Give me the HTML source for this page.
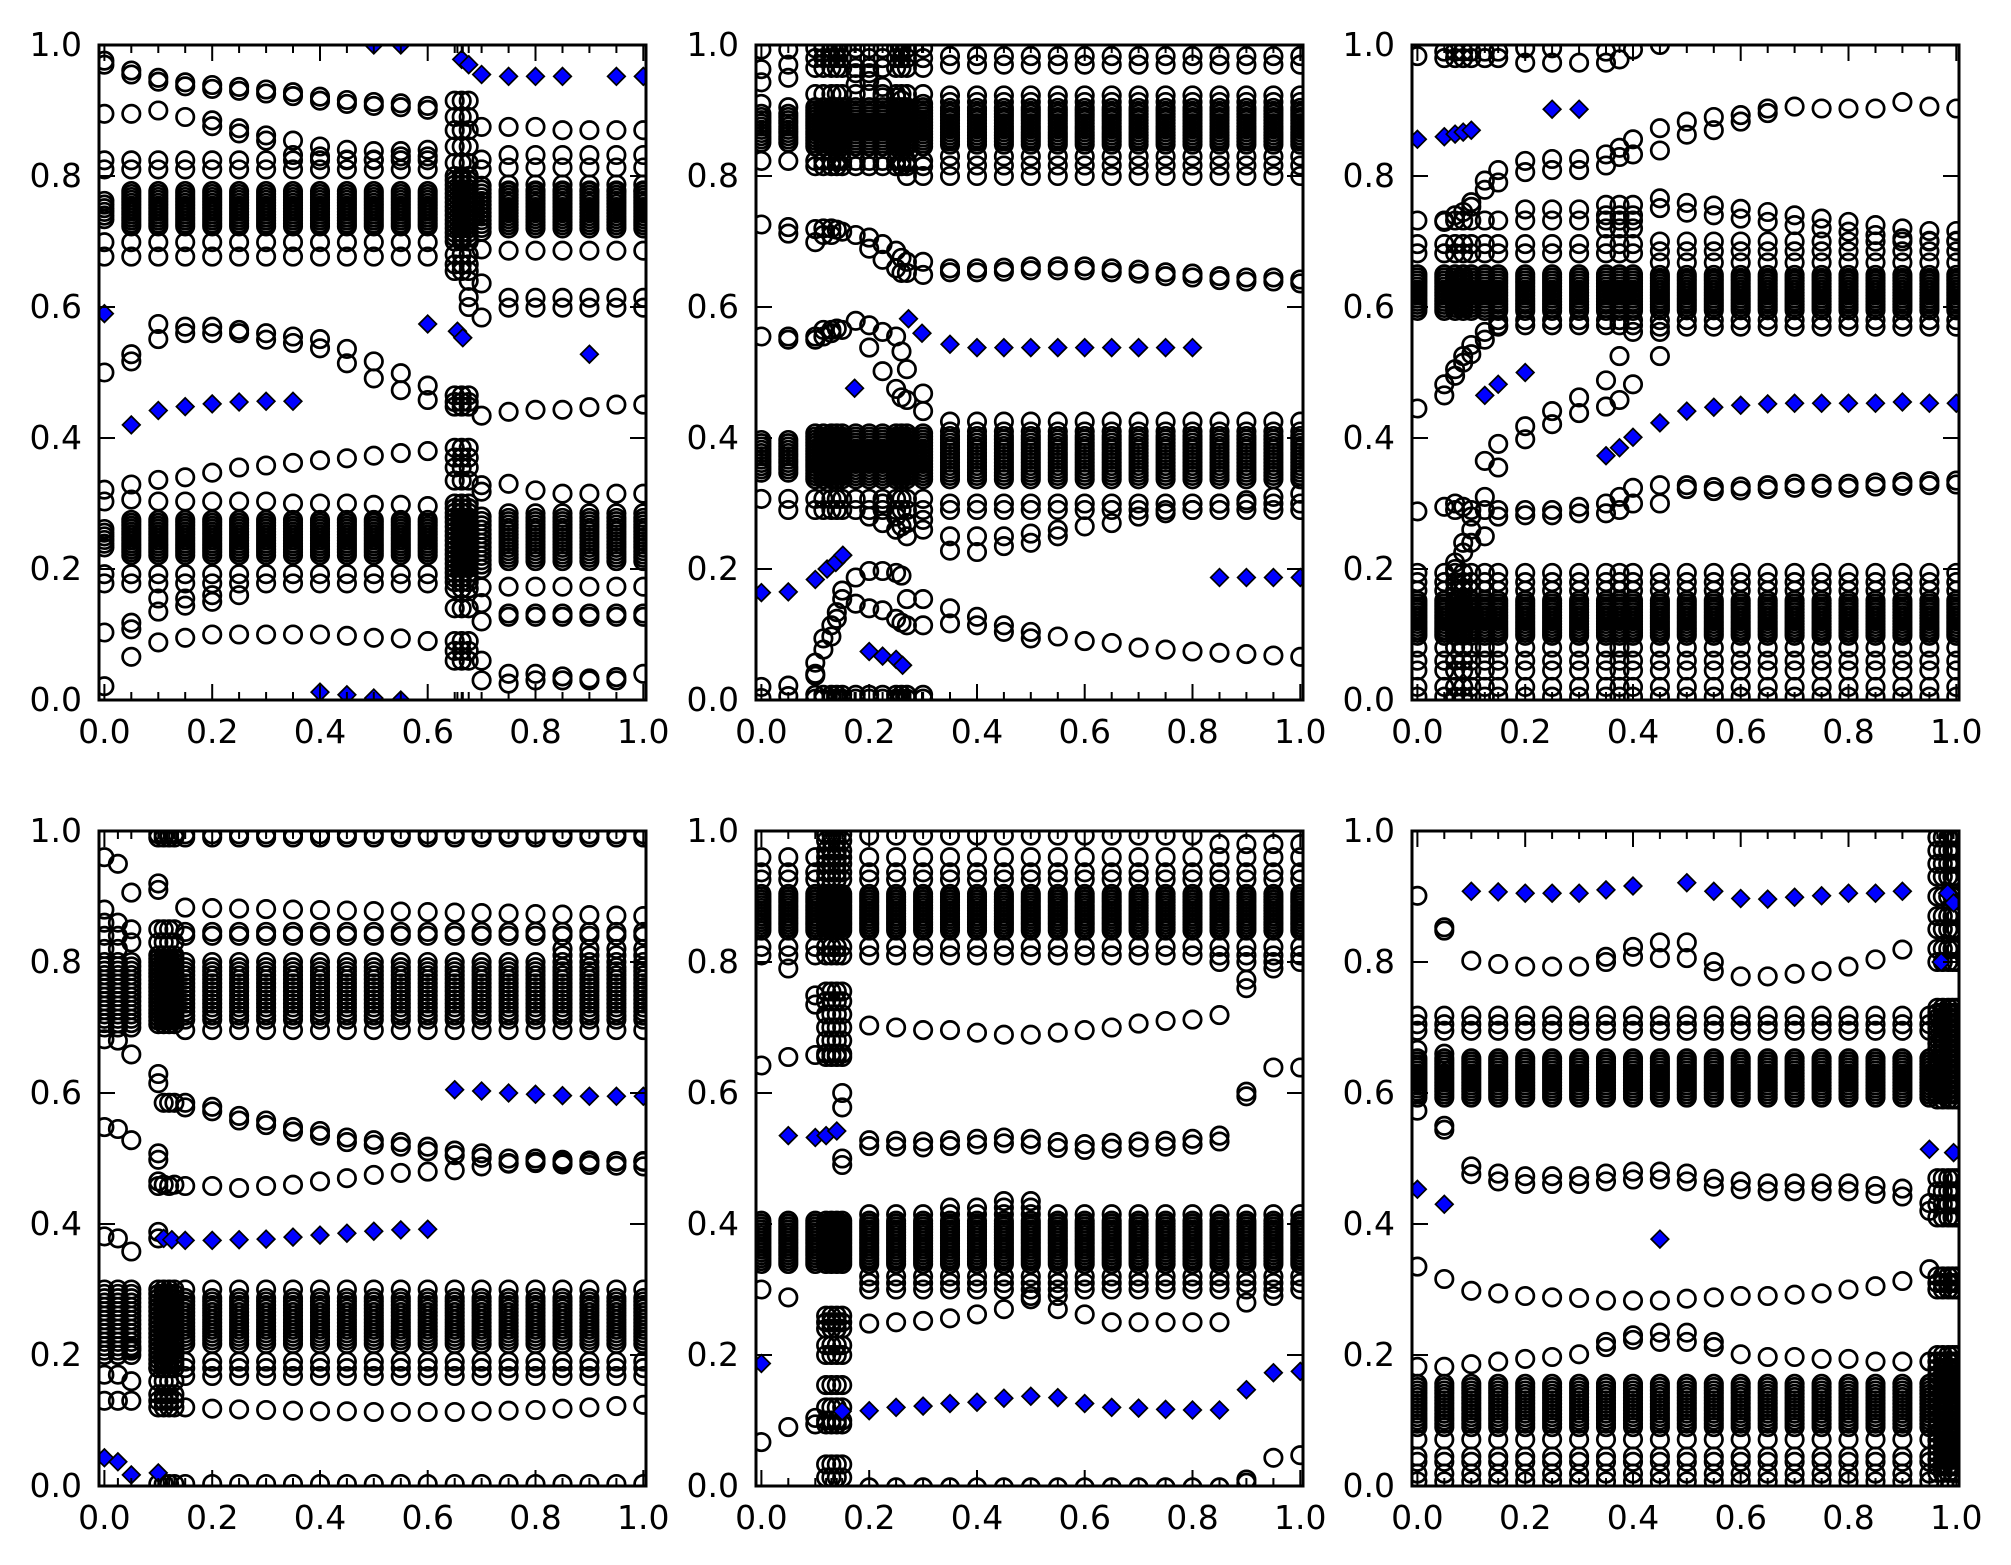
<!DOCTYPE html>
<html><head><meta charset="utf-8">
<style>html,body{margin:0;padding:0;background:#fff}svg{display:block}</style>
</head><body>
<svg id="s" width="2011" height="1565" viewBox="0 0 2011 1565">
<rect width="2011" height="1565" fill="#fff"/>
<defs>
<clipPath id="c1"><rect x="99" y="45" width="547" height="655"/></clipPath>
<clipPath id="c2"><rect x="756" y="45" width="547" height="655"/></clipPath>
<clipPath id="c3"><rect x="1412" y="45" width="547" height="655"/></clipPath>
<clipPath id="c4"><rect x="99" y="831" width="547" height="655"/></clipPath>
<clipPath id="c5"><rect x="756" y="831" width="547" height="655"/></clipPath>
<clipPath id="c6"><rect x="1412" y="831" width="547" height="655"/></clipPath>
</defs>
<g id="marks"></g>
<g fill="none" stroke="#000" stroke-width="3">
<rect x="99" y="45" width="547" height="655"/>
<rect x="756" y="45" width="547" height="655"/>
<rect x="1412" y="45" width="547" height="655"/>
<rect x="99" y="831" width="547" height="655"/>
<rect x="756" y="831" width="547" height="655"/>
<rect x="1412" y="831" width="547" height="655"/>
</g>
<g font-family="DejaVu Sans, Liberation Sans, sans-serif" font-size="33" fill="#000" text-anchor="middle">
<text x="104.4" y="743">0.0</text><text x="212.2" y="743">0.2</text><text x="320" y="743">0.4</text><text x="427.7" y="743">0.6</text><text x="535.5" y="743">0.8</text><text x="643.3" y="743">1.0</text>
<text x="761.4" y="743">0.0</text><text x="869.2" y="743">0.2</text><text x="977" y="743">0.4</text><text x="1084.7" y="743">0.6</text><text x="1192.5" y="743">0.8</text><text x="1300.3" y="743">1.0</text>
<text x="1417.4" y="743">0.0</text><text x="1525.2" y="743">0.2</text><text x="1633" y="743">0.4</text><text x="1740.7" y="743">0.6</text><text x="1848.5" y="743">0.8</text><text x="1956.3" y="743">1.0</text>
<text x="104.4" y="1529">0.0</text><text x="212.2" y="1529">0.2</text><text x="320" y="1529">0.4</text><text x="427.7" y="1529">0.6</text><text x="535.5" y="1529">0.8</text><text x="643.3" y="1529">1.0</text>
<text x="761.4" y="1529">0.0</text><text x="869.2" y="1529">0.2</text><text x="977" y="1529">0.4</text><text x="1084.7" y="1529">0.6</text><text x="1192.5" y="1529">0.8</text><text x="1300.3" y="1529">1.0</text>
<text x="1417.4" y="1529">0.0</text><text x="1525.2" y="1529">0.2</text><text x="1633" y="1529">0.4</text><text x="1740.7" y="1529">0.6</text><text x="1848.5" y="1529">0.8</text><text x="1956.3" y="1529">1.0</text>
</g>
<g font-family="DejaVu Sans, Liberation Sans, sans-serif" font-size="33" fill="#000" text-anchor="end">
<text x="82" y="56">1.0</text><text x="82" y="187">0.8</text><text x="82" y="318">0.6</text><text x="82" y="449">0.4</text><text x="82" y="580">0.2</text><text x="82" y="711">0.0</text>
<text x="739" y="56">1.0</text><text x="739" y="187">0.8</text><text x="739" y="318">0.6</text><text x="739" y="449">0.4</text><text x="739" y="580">0.2</text><text x="739" y="711">0.0</text>
<text x="1395" y="56">1.0</text><text x="1395" y="187">0.8</text><text x="1395" y="318">0.6</text><text x="1395" y="449">0.4</text><text x="1395" y="580">0.2</text><text x="1395" y="711">0.0</text>
<text x="82" y="842">1.0</text><text x="82" y="973">0.8</text><text x="82" y="1104">0.6</text><text x="82" y="1235">0.4</text><text x="82" y="1366">0.2</text><text x="82" y="1497">0.0</text>
<text x="739" y="842">1.0</text><text x="739" y="973">0.8</text><text x="739" y="1104">0.6</text><text x="739" y="1235">0.4</text><text x="739" y="1366">0.2</text><text x="739" y="1497">0.0</text>
<text x="1395" y="842">1.0</text><text x="1395" y="973">0.8</text><text x="1395" y="1104">0.6</text><text x="1395" y="1235">0.4</text><text x="1395" y="1366">0.2</text><text x="1395" y="1497">0.0</text>
</g>
</svg>
<script>
(function(){
var R=[];for(var i=0;i<=20;i++)R.push(+(i*0.05).toFixed(2));
function rng(a,b){return R.filter(function(x){return x>=a-1e-9&&x<=b+1e-9;});}
function mk(L,T){var p={L:L,T:T,c:[],d:[]};
p.S=function(x0,ys,dd){ys.forEach(function(y,i){if(y==null)return;var x=+(x0+i*0.05).toFixed(3);p.c.push([x,y]);if(dd)p.c.push([x,y+dd]);});return p;};
p.C=function(x,ys){ys.forEach(function(y){p.c.push([x,y]);});return p;};
p.H=function(xl,y,dd){xl.forEach(function(x){p.c.push([x,y]);if(dd)p.c.push([x,y+dd]);});return p;};
p.B=function(xl,yc,h,n){var m=Math.round(n*1.6);xl.forEach(function(x){for(var k=0;k<m;k++)p.c.push([x,yc-h+2*h*k/(m-1)]);});return p;};
p.D=function(l){l.forEach(function(v){p.d.push(v);});return p;};
return p;}

/* ---------- Plot 1 ---------- */
var p1=mk(99,45);
p1.S(0,[.976,.961,.95,.943,.939,.936,.932,.928,.921,.916,.913,.911,.907],-.006);
p1.S(0,[.895,.895,.9,.89,.885,.873,.862,.854,.845,.84,.838,.838,.84]);
p1.S(.2,[.876,.865,.854,.832,.83,.825,.825,.83,.83]);
p1.H(rng(0,.6),.824);p1.H(rng(0,.6),.81);
p1.B([0],.748,.014,4);p1.B(rng(.05,.6),.75,.027,8);
p1.H(rng(0,.6),.699);p1.H(rng(0,.6),.677);
p1.S(0,[.5,.528,.574,.57,.57,.565,.56,.555,.551,.536,.517,.499,.48]);
p1.S(.05,[.517,.551,.56,.56,.56,.55,.545,.537,.514,.491,.473,.458]);
p1.S(.75,[.44,.443,.443,.447,.451,.451]);
p1.S(0,[.321,.329,.336,.34,.347,.355,.358,.362,.366,.369,.373,.377,.38]);
p1.S(0,[.303,.306,.303,.303,.303,.303,.303,.3,.3,.3,.298,.298,.296]);
p1.B([0],.247,.014,4);p1.B(rng(.05,.6),.248,.027,8);
p1.H(rng(0,.6),.192);p1.H(rng(0,.6),.178);
p1.C(.1,[.155,.135]);p1.C(.15,[.155,.144]);p1.C(.2,[.16,.15]);p1.C(.25,[.16]);
p1.S(0,[.103,.118,.088,.095,.1,.1,.1,.1,.1,.098,.095,.094,.09]);
p1.C(.05,[.066,.108]);p1.C(0,[.021]);
var RR=rng(.75,1);
p1.S(.75,[.875,.875,.87,.87,.87,.87]);
p1.H(RR,.832);p1.H(RR,.813);p1.H(RR,.787);p1.H(RR,.778);
p1.B(RR,.748,.028,8);
p1.H(RR,.686);p1.H(RR,.614);p1.H(RR,.599);
p1.S(.75,[.33,.32,.315,.315,.315,.315]);
p1.H(RR,.285);
p1.B(RR,.245,.033,9);
p1.H(RR,.173);p1.H(RR,.132);p1.H(RR,.127);
p1.S(.75,[.04,.04,.036,.033,.035,.04]);p1.S(.75,[.025,.03,.03,.03,.03]);
[.65,.663,.676].forEach(function(x){p1.C(x,[.915,.89,.87,.845,.82,.68,.665,.655,.465,.455,.448,.385,.37,.355,.335,.17,.14,.09,.075,.06]);p1.B([x],.75,.05,10);p1.B([x],.24,.06,11);});
p1.C(.676,[.64,.615,.6]);
p1.C(.7,[.875,.825,.81,.688,.636,.584,.434,.328,.318,.172,.148,.12,.06,.03]);p1.B([.7],.75,.035,8);p1.B([.7],.24,.04,8);
p1.D([[0,.59],[.05,.42],[.1,.442],[.15,.448],[.2,.452],[.25,.455],[.3,.456],[.35,.456],[.4,.012],[.45,.008],[.5,.003],[.55,0],[.5,1.0],[.55,1.0],[.6,.574],[.655,.563],[.665,.553],[.663,.978],[.676,.97],[.7,.955],[.75,.952],[.8,.952],[.85,.952],[.9,.528],[.95,.952],[1,.952]]);

/* ---------- Plot 2 ---------- */
var p2=mk(756,45);
var A2=[.1,.115,.13,.14,.15,.175,.2,.225,.25,.26,.27,.3];
var R2=rng(.35,1);
p2.B([0,.05],.873,.022,6);p2.B(A2,.875,.03,9);p2.B(R2,.876,.028,8);
p2.C(0,[.993,.963,.943,.91,.823]);p2.C(.05,[.993,.97,.95,.905,.823]);
A2.forEach(function(x){p2.C(x,[.995,.98,.965,.925,.823,.815]);});
p2.C(.175,[.957,.94]);p2.C(.2,[.957,.945]);p2.C(.225,[.936,.92]);p2.C(.25,[.92,.9]);p2.C(.26,[.916,.9]);p2.C(.27,[.9,.82,.8]);p2.C(.3,[.91,.8]);
R2.forEach(function(x){p2.C(x,[.983,.97,.923,.913,.83,.816,.8]);});
p2.C(0,[.726]);p2.C(.05,[.722,.712]);p2.C(.1,[.719,.699]);
p2.C(.115,[.72,.71]);p2.C(.13,[.72,.71]);p2.C(.14,[.718]);p2.C(.15,[.715]);p2.C(.175,[.71]);
p2.C(.2,[.706,.689]);p2.C(.225,[.696,.672]);p2.C(.25,[.686,.659]);p2.C(.26,[.675,.652]);p2.C(.27,[.669,.652]);p2.C(.3,[.669,.649]);
p2.S(.35,[.659,.659,.66,.662,.662,.662,.659,.657,.653,.651,.647,.645,.645,.642],-.006);
p2.C(0,[.555]);p2.C(.05,[.555,.55]);p2.C(.1,[.555,.55]);p2.C(.115,[.565,.555]);p2.C(.13,[.565,.56]);p2.C(.14,[.567]);p2.C(.15,[.565]);p2.C(.175,[.579]);p2.C(.2,[.572,.538]);p2.C(.225,[.562,.502]);p2.C(.25,[.555,.475]);p2.C(.26,[.532,.462]);p2.C(.27,[.505,.458]);p2.C(.3,[.468,.441]);
p2.B([0,.05],.372,.025,7);p2.B(A2,.372,.035,10);p2.B(R2,.37,.033,9);
A2.forEach(function(x){p2.C(x,[.307,.29]);});p2.C(0,[.307]);p2.C(.05,[.307,.29]);
p2.C(.2,[.28]);p2.C(.225,[.27,.3]);p2.C(.25,[.26,.28]);p2.C(.26,[.265]);p2.C(.27,[.25,.27]);p2.C(.3,[.26,.275]);
R2.forEach(function(x){p2.C(x,[.425,.41,.3,.29]);});
p2.S(.35,[.25,.25,.25,.254,.26,.265,.27,.28,.285,.29,.3,.305,.31,.315]);
p2.S(.35,[.228,.226,.235,.24,.25]);
p2.C(.1,[.057,.037]);p2.C(.115,[.077,.094]);p2.C(.13,[.097,.114]);p2.C(.14,[.124,.134]);p2.C(.15,[.167,.154]);p2.C(.175,[.187,.147]);p2.C(.2,[.197,.14]);p2.C(.225,[.197,.137]);p2.C(.25,[.194,.124]);p2.C(.26,[.19,.118]);p2.C(.27,[.154,.114]);p2.C(.3,[.154,.114]);
p2.S(.35,[.14,.127,.114,.104,.097,.09,.087,.08,.077,.074,.072,.07,.068,.066]);
p2.S(.35,[.117,.114,.104,.094]);
p2.C(0,[.02,.003]);p2.C(.05,[.022,.006]);A2.forEach(function(x){p2.C(x,[.008,.002]);});p2.C(.1,[.04]);
p2.D([[0,.164],[.05,.165],[.1,.184],[.122,.2],[.138,.21],[.151,.221],[.173,.476],[.2,.074],[.225,.067],[.25,.062],[.262,.053],[.273,.582],[.298,.56],[.35,.543],[.4,.538],[.45,.538],[.5,.538],[.55,.538],[.6,.538],[.65,.538],[.7,.538],[.75,.538],[.8,.538],[.85,.187],[.9,.187],[.95,.187],[1,.187]]);

/* ---------- Plot 3 ---------- */
var p3=mk(1412,45);
var L3=[0,.05,.07,.085,.1,.125,.15,.2,.25,.3,.35,.375,.4];
var R3=rng(.45,1);
p3.C(0,[.983]);[.05,.07,.085,.1,.125,.15].forEach(function(x){p3.C(x,[.99,.98]);});
p3.C(.2,[.995,.973]);p3.C(.25,[.995,.973]);p3.C(.3,[.973]);p3.C(.35,[.99,.973]);p3.C(.375,[.978]);p3.C(.4,[.993]);p3.C(.45,[1.0]);
p3.C(.1,[.753]);p3.C(.125,[.793,.779]);p3.C(.15,[.809,.79]);
p3.S(.2,[.823,.826,.826,.833],-.017);p3.C(.375,[.843,.829]);
p3.S(.4,[.856,.873,.883,.89,.893,.903,.906,.903,.903,.903,.913,.906,.903]);
p3.S(.4,[.833,.839,.863,.87,.883,.896]);
L3.forEach(function(x){p3.C(x,[.732,.696,.682]);p3.B([x],.622,.028,8);});
[.2,.25,.3].forEach(function(x){p3.C(x,[.749]);});[.35,.375,.4].forEach(function(x){p3.C(x,[.756,.74,.72]);});
[.15,.2,.25,.3,.35,.375,.4].forEach(function(x){p3.C(x,[.58,.572]);});
p3.C(.05,[.73]);p3.C(.07,[.74]);p3.C(.085,[.745]);p3.C(.1,[.76]);
var t3=[.766,.759,.755,.75,.745,.74,.735,.73,.725,.72,.716,.716];
R3.forEach(function(x,i){var t=t3[i];p3.C(x,[t,t-.015,.7,.685,.668,.58,.57]);p3.B([x],.622,.027,8);});
p3.C(0,[.445]);p3.C(.05,[.482,.465]);p3.C(.07,[.495,.505]);p3.C(.085,[.525,.515]);p3.C(.1,[.542,.528]);p3.C(.125,[.562,.55]);p3.C(.15,[.57]);
p3.C(.125,[.365]);p3.C(.15,[.391,.355]);p3.C(.2,[.418,.398]);p3.C(.25,[.441,.421]);p3.C(.3,[.462,.438]);p3.C(.35,[.488,.448]);p3.C(.375,[.525,.458]);p3.C(.4,[.562,.482]);p3.C(.45,[.525,.562]);
p3.C(0,[.288]);p3.C(.05,[.295]);p3.C(.07,[.3,.29]);p3.C(.085,[.295]);p3.C(.1,[.29,.28]);p3.C(.125,[.31,.29]);p3.C(.15,[.29,.28]);p3.C(.2,[.29,.282]);p3.C(.25,[.29,.282]);p3.C(.3,[.295,.285]);p3.C(.35,[.3,.285]);p3.C(.375,[.31,.29]);p3.C(.4,[.324,.3]);p3.C(.45,[.328,.3]);
p3.S(.5,[.328,.325,.326,.328,.33,.33,.33,.332,.333,.334,.335],-.006);
p3.C(.07,[.2,.21]);p3.C(.085,[.225,.24]);p3.C(.1,[.24,.26]);p3.C(.125,[.25]);
L3.concat(R3).forEach(function(x){p3.C(x,[.194,.18,.167,.08,.06,.045,.02,.005]);p3.B([x],.125,.027,8);});
p3.D([[0,.856],[.05,.86],[.07,.864],[.085,.867],[.1,.87],[.25,.902],[.3,.902],[.125,.465],[.15,.482],[.2,.5],[.35,.373],[.375,.385],[.4,.401],[.45,.423],[.5,.441],[.55,.447],[.6,.45],[.65,.452],[.7,.453],[.75,.453],[.8,.453],[.85,.453],[.9,.455],[.95,.453],[1,.453]]);

/* ---------- Plot 4 ---------- */
var p4=mk(99,831);
var D4=[.1,.11,.12,.13];
var R4=rng(.15,1);
D4.concat(R4).forEach(function(x){p4.C(x,[.995,.99]);});
p4.C(0,[.96]);p4.C(.025,[.95]);p4.C(.05,[.906]);p4.C(.1,[.92,.91]);
R4.forEach(function(x,i){p4.C(x,[.883-.013*i/17,.846,.84]);if(x>=.85)p4.C(x,[.82,.81]);});
p4.B([0,.025,.05],.75,.05,10);p4.B(D4,.755,.05,12);p4.B(R4,.752,.04,9);
R4.forEach(function(x){p4.C(x,[.8,.696]);});
p4.C(0,[.88,.86,.84,.82,.682]);p4.C(.025,[.86,.84,.82,.68]);p4.C(.05,[.85,.83,.659]);
D4.forEach(function(x){p4.C(x,[.85,.83,.81]);});
p4.C(.1,[.629,.615,.508,.498,.465,.458]);p4.C(.11,[.585,.46]);p4.C(.12,[.585,.458]);p4.C(.13,[.585,.46]);
p4.S(.15,[.585,.579,.565,.558,.548,.542,.532,.528,.525,.518,.512,.508,.5,.5,.498,.497,.496,.495],-.007);
p4.S(.15,[.458,.458,.455,.458,.46,.465,.47,.475,.478,.48,.482,.488,.492,.495,.495,.495,.495,.496]);
p4.C(0,[.548,.381]);p4.C(.025,[.545,.378]);p4.C(.05,[.528,.358]);p4.C(.1,[.388,.378]);
p4.B([0,.025,.05],.25,.05,10);p4.B(D4,.24,.06,12);p4.B(R4,.252,.035,9);
R4.forEach(function(x){p4.C(x,[.3,.19,.18,.168]);});
p4.S(.15,[.12,.118,.117,.116,.115,.114,.114,.113,.113,.113,.113,.114,.115,.116,.118,.12,.122,.124]);
p4.C(0,[.13,.17,.2]);p4.C(.025,[.13,.17,.2]);p4.C(.05,[.13,.16,.21]);D4.forEach(function(x){p4.C(x,[.13,.12,.14,.16,.18]);});
D4.concat(R4).forEach(function(x){p4.C(x,[.003]);});
p4.D([[0,.043],[.025,.037],[.05,.017],[.1,.02],[.11,.378],[.125,.376],[.15,.375],[.2,.375],[.25,.376],[.3,.377],[.35,.38],[.4,.383],[.45,.386],[.5,.389],[.55,.391],[.6,.392],[.65,.605],[.7,.603],[.75,.6],[.8,.598],[.85,.596],[.9,.595],[.95,.595],[1,.595]]);

/* ---------- Plot 5 ---------- */
var p5=mk(756,831);
var D5=[.12,.13,.14,.15];
var L5=[0,.05,.1];
var R5=rng(.2,1);
var all5=L5.concat(D5,R5);
R5.forEach(function(x){p5.C(x,[x<=.8?.993:.98]);});
all5.forEach(function(x){p5.C(x,[.96,.937,.926,.823,.81]);});
D5.forEach(function(x){p5.C(x,[.995,.985,.97,.95]);});
p5.B(all5,.876,.028,9);
p5.C(.05,[.79]);p5.C(.85,[.8]);p5.C(.9,[.8]);p5.C(.95,[.8,.79]);p5.C(1,[.8]);
p5.C(0,[.642]);p5.C(.05,[.655]);p5.C(.1,[.749,.735,.658]);
D5.forEach(function(x){p5.C(x,[.755,.74,.72,.7,.68,.66,.655]);});
p5.S(.2,[.703,.7,.696,.696,.692,.689,.689,.692,.696,.7,.706,.71,.712,.719]);
p5.C(.9,[.773,.76,.602,.595]);p5.C(.95,[.639]);p5.C(1,[.639]);
p5.C(.15,[.6,.578,.5,.49]);
p5.S(.2,[.528,.527,.526,.528,.53,.532,.53,.525,.522,.524,.526,.527,.53,.535],-.009);
p5.B(all5,.372,.033,10);
R5.forEach(function(x){p5.C(x,[.415,.32,.31,.3]);});
p5.C(.35,[.425]);p5.C(.4,[.425]);p5.C(.45,[.435,.425]);p5.C(.5,[.435,.425]);
p5.S(.2,[.248,.25,.252,.256,.262,.27,null,.27,.262,.25,.25,.25,.25,.25]);
p5.C(.5,[.29,.285]);p5.C(.55,[.29]);
p5.C(0,[.3]);p5.C(.05,[.288]);D5.forEach(function(x){p5.C(x,[.26,.25,.24,.215,.2]);});
p5.C(.9,[.28]);p5.C(.95,[.29]);
p5.C(0,[.067]);p5.C(.05,[.09]);p5.C(.1,[.104,.094]);D5.forEach(function(x){p5.C(x,[.154,.12,.1,.094,.033,.013]);});
R5.forEach(function(x){if(x<.9)p5.C(x,[-.002]);});p5.C(.9,[.01,.005]);p5.C(.95,[.043]);p5.C(1,[.047]);
p5.D([[0,.187],[.05,.535],[.1,.532],[.12,.535],[.14,.542],[.15,.114],[.2,.115],[.25,.12],[.3,.122],[.35,.126],[.4,.128],[.45,.134],[.5,.137],[.55,.135],[.6,.126],[.65,.12],[.7,.119],[.75,.117],[.8,.116],[.85,.116],[.9,.147],[.95,.173],[1,.175]]);

/* ---------- Plot 6 ---------- */
var p6=mk(1412,831);
var R6=rng(0,.95);
var D6=[.965,.975,.985,.993,1];
p6.C(0,[.901]);p6.C(.05,[.853,.848]);
p6.S(.1,[.802,.797,.793,.793,.793,.8,.808,.806,.806,.8,.778,.778,.782,.786,.793,.804,.819]);
p6.C(.35,[.808]);p6.C(.4,[.823]);p6.C(.45,[.83]);p6.C(.5,[.83]);p6.C(.55,[.786]);
R6.forEach(function(x){p6.C(x,[.718,.705,.695]);p6.B([x],.623,.03,9);});
p6.C(0,[.666,.573]);p6.C(.05,[.66,.544,.55]);
p6.S(.1,[.488,.477,.473,.473,.473,.477,.48,.48,.477,.469,.465,.462,.462,.462,.462,.458,.454],-.012);
p6.C(.95,[.432,.42]);
p6.S(0,[.335,.316,.298,.294,.29,.288,.287,.283,.283,.283,.286,.288,.29,.29,.292,.294,.3,.305,.313,.331]);
p6.S(0,[.182,.182,.186,.19,.194,.197,.201,.212,.223,.234,.234,.22,.201,.197,.197,.194,.194,.19,.19,.19]);
p6.C(.35,[.22]);p6.C(.4,[.23]);p6.C(.45,[.22]);p6.C(.5,[.22]);p6.C(.55,[.212]);
R6.forEach(function(x){p6.B([x],.123,.033,9);p6.C(x,[.071,.045,.037,.019,.007]);});
D6.forEach(function(x){p6.C(x,[.99,.97,.95,.93,.9,.87,.85,.82,.8,.47,.45,.43,.41,.32,.31,.3]);p6.B([x],.66,.07,12);p6.B([x],.11,.09,12);});
p6.D([[.1,.908],[.15,.907],[.2,.905],[.25,.905],[.3,.905],[.35,.91],[.4,.916],[.5,.921],[.55,.908],[.6,.897],[.65,.896],[.7,.899],[.75,.901],[.8,.905],[.85,.905],[.9,.908],[.984,.905],[.995,.89],[.972,.8],[.95,.514],[.995,.509],[0,.453],[.05,.43],[.45,.377]]);

var K=547/1.015;
var out='';
[p1,p2,p3,p4,p5,p6].forEach(function(p,idx){
  var X=function(x){return (p.L+(x+.01)*K).toFixed(1);};
  var Y=function(y){return (p.T+(1-y)*655).toFixed(1);};
  var s='<g clip-path="url(#c'+(idx+1)+')"><g fill="none" stroke="#000" stroke-width="2.7">';
  p.c.forEach(function(v){s+='<circle cx="'+X(v[0])+'" cy="'+Y(v[1])+'" r="8.7"/>';});
  s+='</g><g fill="#0000ff" stroke="#000" stroke-width="1.7">';
  p.d.forEach(function(v){var x=+X(v[0]),y=+Y(v[1]),h=8.8;s+='<path d="M'+x+' '+(y-h)+'L'+(x+h)+' '+y+'L'+x+' '+(y+h)+'L'+(x-h)+' '+y+'Z"/>';});
  s+='</g></g>';
  var B=p.T+655,Rt=p.L+547,seen={},t='';
  p.c.concat(p.d).forEach(function(v){var k=v[0].toFixed(3);if(seen[k])return;seen[k]=1;var x=X(v[0]);t+='M'+x+' '+B+'v-8M'+x+' '+p.T+'v8';});
  [0,.2,.4,.6,.8,1].forEach(function(v){var x=X(v);t+='M'+x+' '+B+'v-16M'+x+' '+p.T+'v16';var y=Y(v);t+='M'+p.L+' '+y+'h16M'+Rt+' '+y+'h-16';});
  s+='<path d="'+t+'" stroke="#000" stroke-width="2" fill="none"/>';
  out+=s;
});
document.getElementById('marks').innerHTML=out;
})();
</script>
</body></html>
